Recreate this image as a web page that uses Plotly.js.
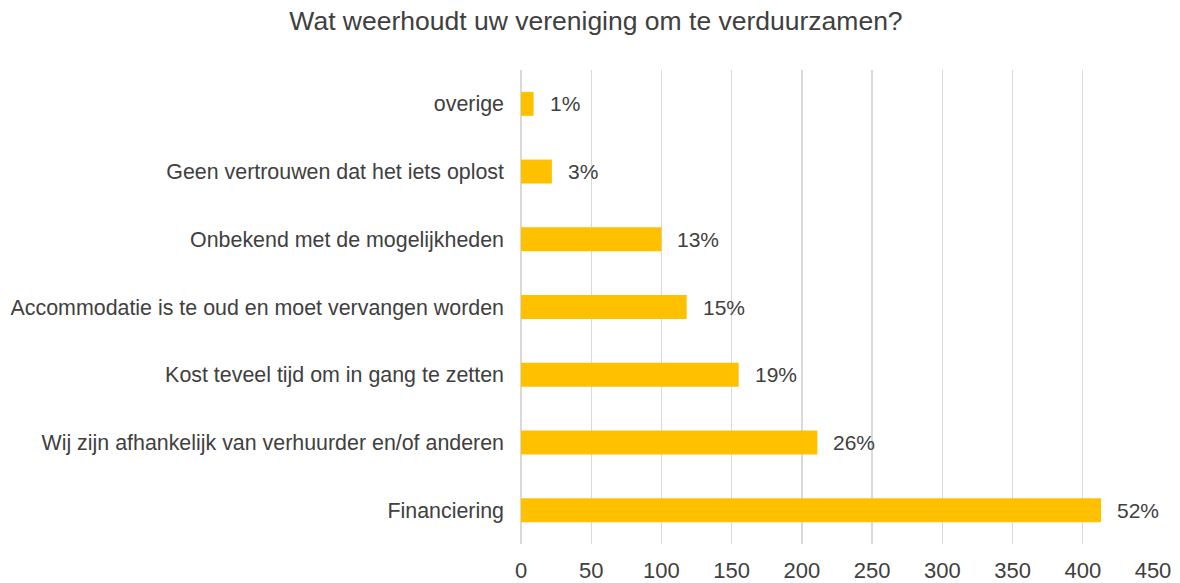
<!DOCTYPE html>
<html>
<head>
<meta charset="utf-8">
<script src="https://cdn.plot.ly/plotly-3.0.1.min.js"></script>
<style>
  html, body { margin: 0; padding: 0; background: #ffffff; }
  #chart { width: 1180px; height: 583px; }
</style>
</head>
<body>
<div id="chart"></div>
<script>
// Categories listed bottom to top
const categories = [
  "Financiering",
  "Wij zijn afhankelijk van verhuurder en/of anderen",
  "Kost teveel tijd om in gang te zetten",
  "Accommodatie is te oud en moet vervangen worden",
  "Onbekend met de mogelijkheden",
  "Geen vertrouwen dat het iets oplost",
  "overige"
];
const counts = [413, 211, 155, 118, 100, 22, 9];
const percentLabels = ["52%", "26%", "19%", "15%", "13%", "3%", "1%"];
const xTicks = [0, 50, 100, 150, 200, 250, 300, 350, 400, 450];
const chartTitle = "Wat weerhoudt uw vereniging om te verduurzamen?";

const textColor = "#404040";
const fontFamily = "'Liberation Sans', Arial, sans-serif";

const trace = {
  type: "bar",
  orientation: "h",
  x: counts,
  y: categories,
  marker: { color: "#FFC000" },
  width: 0.354,
  hoverinfo: "x+y"
};

const annotations = categories.map((c, i) => ({
  x: counts[i],
  y: c,
  xref: "x",
  yref: "y",
  text: percentLabels[i],
  showarrow: false,
  xanchor: "left",
  yanchor: "middle",
  xshift: 14,
  font: { family: fontFamily, size: 21, color: textColor }
}));

const layout = {
  width: 1180,
  height: 583,
  margin: { l: 521, r: 27, t: 70, b: 39 },
  paper_bgcolor: "#ffffff",
  plot_bgcolor: "#ffffff",
  font: { family: fontFamily, color: textColor },
  title: {
    text: chartTitle,
    font: { family: fontFamily, size: 26.5, color: textColor },
    x: 596 / 1180,
    xanchor: "center",
    y: 1 - 21 / 583,
    yanchor: "middle"
  },
  showlegend: false,
  bargap: 0.646,
  xaxis: {
    range: [0, 450],
    tickvals: xTicks,
    ticktext: xTicks.map(String),
    showgrid: true,
    gridcolor: "#d9d9d9",
    gridwidth: 1.3,
    zeroline: true,
    zerolinecolor: "#d9d9d9",
    zerolinewidth: 1.3,
    showline: false,
    ticks: "",
    tickfont: { family: fontFamily, size: 22, color: textColor },
    ticklabelstandoff: 11,
    fixedrange: true
  },
  yaxis: {
    type: "category",
    categoryorder: "array",
    categoryarray: categories,
    showgrid: false,
    zeroline: false,
    showline: false,
    ticks: "",
    tickfont: { family: fontFamily, size: 21.4, color: textColor },
    ticklabelstandoff: 16,
    fixedrange: true
  },
  annotations: annotations
};

Plotly.newPlot("chart", [trace], layout, { displayModeBar: false, staticPlot: true });
</script>
</body>
</html>
